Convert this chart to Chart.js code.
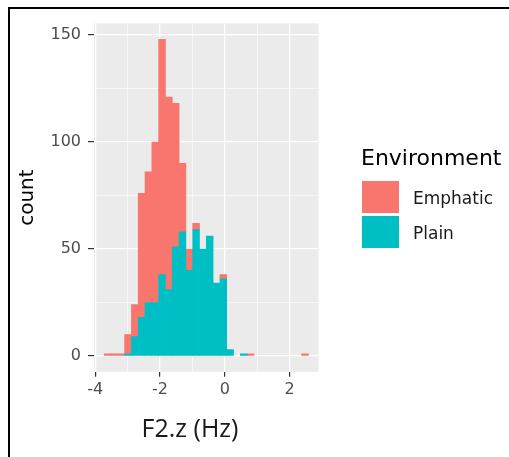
<!DOCTYPE html>
<html>
<head>
<meta charset="utf-8">
<title>F2.z histogram by Environment</title>
<script src="https://cdn.jsdelivr.net/npm/chart.js"></script>
<style>
  html, body { margin: 0; padding: 0; background: #fff; }
  #wrap { position: relative; width: 509px; height: 457px; overflow: hidden; }
  #frame {
    position: absolute; left: 8px; top: 7px; width: 600px; height: 600px;
    border-left: 2px solid #000; border-top: 2px solid #000; pointer-events: none;
  }
</style>
</head>
<body>
<div id="wrap">
  <canvas id="histChart" width="509" height="457"></canvas>
  <div id="frame"></div>
</div>
<script>
// Histogram bins (centre of each bin, width 0.21)
const binCenters = [
  -3.615, -3.405, -3.195, -2.985, -2.775, -2.565, -2.355, -2.145, -1.935, -1.725,
  -1.515, -1.305, -1.095, -0.885, -0.675, -0.465, -0.255, -0.045, 0.165, 0.375,
  0.585, 0.795, 1.005, 1.215, 1.425, 1.635, 1.845, 2.055, 2.265, 2.475
];

// Counts per bin for each environment
const emphaticCounts = [1, 1, 1, 9, 15, 58, 61, 75, 110, 90, 67, 32, 10, 3, 0, 0, 0, 2, 0, 0, 0, 1, 0, 0, 0, 0, 0, 0, 0, 1];
const plainCounts = [0, 0, 0, 1, 9, 18, 25, 25, 38, 31, 51, 58, 40, 59, 50, 56, 34, 36, 3, 0, 1, 0, 0, 0, 0, 0, 0, 0, 0, 0];

const seriesNames = ["Emphatic", "Plain"];
const seriesColors = ["#F8766D", "#00BFC4"];

const xTickValues = [-4, -2, 0, 2];
const yTickValues = [0, 50, 100, 150];

Chart.defaults.font.family = "'DejaVu Sans', sans-serif";

// Turn a list of counts into {x, y} points on the bin centres (empty bins are left out)
function toPoints(counts) {
    return binCenters.map((c, i) => ({ x: c, y: counts[i] === 0 ? null : counts[i] }));
}

// Is this grid line one of the labelled (major) ones?
function isMajor(c, majors) {
    return !!(c.tick && majors.includes(c.tick.value));
}

// Grey panel background behind the grid, like ggplot's theme_grey
const panelBackground = {
    id: "panelBackground",
    beforeDraw(chart) {
        const { ctx, chartArea } = chart;
        ctx.save();
        ctx.fillStyle = "#EBEBEB";
        ctx.fillRect(chartArea.left, chartArea.top, chartArea.right - chartArea.left, chartArea.bottom - chartArea.top);
        ctx.restore();
    }
};

// Legend on the right and the x axis title
const sideLegend = {
    id: "sideLegend",
    afterDraw(chart) {
        const ctx = chart.ctx;
        ctx.save();
        ctx.textBaseline = "alphabetic";
        ctx.textAlign = "left";
        ctx.fillStyle = "#000";
        ctx.font = "22px 'DejaVu Sans'";
        ctx.fillText("Environment", 361, 165);

        ctx.font = "17px 'DejaVu Sans'";
        seriesNames.forEach((name, i) => {
            const top = 181 + i * 35;
            ctx.fillStyle = seriesColors[i];
            ctx.fillRect(362, top, 37, 32);
            ctx.fillStyle = "#1a1a1a";
            ctx.fillText(name, 413, top + 23);
        });

        ctx.font = "25px 'Open Sans'";
        ctx.textAlign = "center";
        ctx.fillStyle = "#1a1a1a";
        ctx.fillText("F2.z (Hz)", 190, 437);
        ctx.restore();
    }
};

const ctx = document.getElementById("histChart").getContext("2d");

const histChart = new Chart(ctx, {
    type: "bar",
    data: {
        datasets: [
            {
                label: seriesNames[1],
                data: toPoints(plainCounts),
                backgroundColor: seriesColors[1],
                borderWidth: 0
            },
            {
                label: seriesNames[0],
                data: toPoints(emphaticCounts),
                backgroundColor: seriesColors[0],
                borderWidth: 0
            }
        ]
    },
    options: {
        responsive: false,
        animation: false,
        barPercentage: 1,
        categoryPercentage: 1,
        layout: {
            padding: { top: 23.4, right: 190.4, bottom: 45.2, left: 0 }
        },
        plugins: {
            legend: { display: false },
            tooltip: { enabled: false }
        },
        scales: {
            x: {
                type: "linear",
                stacked: true,
                offset: false,
                min: -4.035,
                max: 2.895,
                afterFit: (scale) => { scale.height = 40; },
                border: { display: false },
                grid: {
                    offset: false,
                    color: "#FFFFFF",
                    lineWidth: (c) => (isMajor(c, xTickValues) ? 1.2 : 0.6),
                    tickColor: (c) => (isMajor(c, xTickValues) ? "#333333" : "rgba(0,0,0,0)"),
                    tickLength: 5
                },
                ticks: {
                    stepSize: 1,
                    includeBounds: false,
                    autoSkip: false,
                    maxRotation: 0,
                    padding: 3,
                    color: "#4D4D4D",
                    font: { size: 16 },
                    callback: (v) => (xTickValues.includes(v) ? String(v) : "")
                }
            },
            y: {
                stacked: true,
                min: -7.4,
                max: 155.4,
                afterFit: (scale) => { scale.width = 94; },
                border: { display: false },
                grid: {
                    color: "#FFFFFF",
                    lineWidth: (c) => (isMajor(c, yTickValues) ? 1.2 : 0.6),
                    tickColor: (c) => (isMajor(c, yTickValues) ? "#333333" : "rgba(0,0,0,0)"),
                    tickLength: 6
                },
                ticks: {
                    stepSize: 25,
                    includeBounds: false,
                    padding: 7,
                    color: "#4D4D4D",
                    font: { size: 16 },
                    callback: (v) => (yTickValues.includes(v) ? String(v) : "")
                },
                title: {
                    display: true,
                    text: "count",
                    color: "#000",
                    font: { size: 20 },
                    padding: { top: 16, bottom: 0 }
                }
            }
        }
    },
    plugins: [panelBackground, sideLegend]
});
</script>
</body>
</html>
